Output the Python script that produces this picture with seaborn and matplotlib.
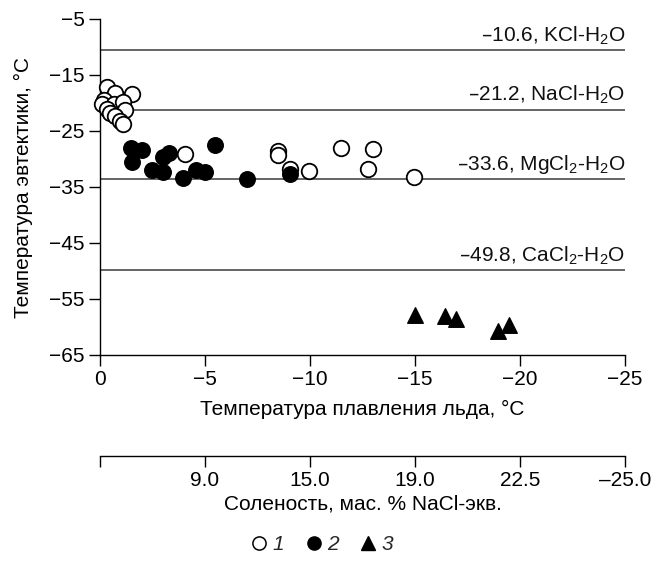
import numpy as np
import pandas as pd
import matplotlib
matplotlib.use("Agg")
import matplotlib.pyplot as plt
import seaborn as sns
from matplotlib.lines import Line2D

# ---------------- data ----------------
# series 1 (open circles): ice melting T (x), eutectic T (y)
x1 = [-0.32, -0.71, -1.51, -0.19, -0.08, -0.67, -1.11, -1.19, -0.32, -0.48, -0.71, -0.95, -1.11,
      -4.05, -8.49, -8.49, -9.05, -9.97, -11.46, -12.99, -12.78, -14.95]
y1 = [-17.2, -18.2, -18.4, -19.5, -20.1, -20.1, -19.8, -21.3, -21.0, -21.8, -22.4, -23.3, -23.8,
      -29.1, -28.5, -29.3, -31.8, -32.1, -28.1, -28.3, -31.7, -33.2]
# series 2 (filled circles)
x2 = [-1.46, -1.99, -1.51, -2.46, -3.01, -3.01, -3.29, -3.97, -4.57, -5.00, -5.48, -6.99, -9.05]
y2 = [-28.1, -28.4, -30.5, -32.0, -32.4, -29.6, -28.9, -33.4, -32.0, -32.4, -27.5, -33.6, -32.7]
# series 3 (triangles)
x3 = [-15.0, -16.43, -16.95, -18.97, -19.48]
y3 = [-57.9, -58.0, -58.6, -60.7, -59.6]

eutectic_vals = [-10.6, -21.2, -33.6, -49.8]
eutectic_labels = ["–10.6, KCl-H$_2$O", "–21.2, NaCl-H$_2$O",
                   "–33.6, MgCl$_2$-H$_2$O", "–49.8, CaCl$_2$-H$_2$O"]

xticks = [0, -5, -10, -15, -20, -25]
yticks = [-5, -15, -25, -35, -45, -55, -65]
salinity_labels = ["", "9.0", "15.0", "19.0", "22.5", "–25.0"]
legend_labels = ["1", "2", "3"]

# ---------------- style ----------------
sns.set_theme(style="ticks")
plt.rcParams["font.family"] = ["Liberation Sans", "DejaVu Sans"]
plt.rcParams["mathtext.default"] = "regular"
plt.rcParams["axes.unicode_minus"] = True

FS = 15
W, H = 662, 562
fig = plt.figure(figsize=(W / 100, H / 100), dpi=100)
L, R, T, B = 100, 625, 19, 355
ax = fig.add_axes([L / W, 1 - B / H, (R - L) / W, (B - T) / H])

df1 = pd.DataFrame({"x": x1, "y": y1})
df2 = pd.DataFrame({"x": x2, "y": y2})
df3 = pd.DataFrame({"x": x3, "y": y3})

for v in eutectic_vals:
    ax.axhline(v, color="#3a3a3a", lw=1.1, zorder=1)
for v, lab in zip(eutectic_vals, eutectic_labels):
    ax.text(-25, v + 0.6, lab, ha="right", va="bottom", fontsize=FS, color="#111111")

sns.scatterplot(data=df1, x="x", y="y", ax=ax, marker="o", s=125, color="white",
                edgecolor="black", linewidth=1.3, legend=False, clip_on=False, zorder=3)
sns.scatterplot(data=df2, x="x", y="y", ax=ax, marker="o", s=125, color="black",
                edgecolor="black", linewidth=1.0, legend=False, clip_on=False, zorder=4)
sns.scatterplot(data=df3, x="x", y="y", ax=ax, marker="^", s=125, color="black",
                edgecolor="black", linewidth=1.0, legend=False, clip_on=False, zorder=4)

ax.set_xlim(0, -25)
ax.set_ylim(-65, -5)
ax.set_xticks(xticks)
ax.set_xticklabels(["0", "−5", "−10", "−15", "−20", "−25"])
ax.set_yticks(yticks)
ax.set_yticklabels(["−5", "−15", "−25", "−35", "−45", "−55", "−65"])
ax.tick_params(direction="out", length=8, width=1, labelsize=FS, pad=3, colors="black")
for s in ["top", "right"]:
    ax.spines[s].set_visible(False)
for s in ["left", "bottom"]:
    ax.spines[s].set_color("black")
    ax.spines[s].set_linewidth(1)
ax.set_xlabel("Температура плавления льда, °C", fontsize=FS, labelpad=8, color="black")
ax.set_ylabel("Температура эвтектики, °C", fontsize=FS, labelpad=12, color="black")

# secondary salinity axis
yS = 456
ax2 = fig.add_axes([L / W, 1 - yS / H, (R - L) / W, 0.0001])
ax2.set_xlim(0, -25)
ax2.patch.set_visible(False)
for s in ["top", "right", "left"]:
    ax2.spines[s].set_visible(False)
ax2.spines["bottom"].set_color("black")
ax2.spines["bottom"].set_linewidth(1)
ax2.set_yticks([])
ax2.set_xticks(xticks)
ax2.set_xticklabels(salinity_labels)
ax2.tick_params(axis="x", direction="out", length=8, width=1, labelsize=FS, pad=3, colors="black")
ax2.set_xlabel("Соленость, мас. % NaCl-экв.", fontsize=FS, labelpad=3, color="black")

# legend
handles = [
    Line2D([], [], marker="o", ls="", markersize=9.5, markerfacecolor="white",
           markeredgecolor="black", markeredgewidth=1.1),
    Line2D([], [], marker="o", ls="", markersize=9.5, markerfacecolor="black",
           markeredgecolor="black"),
    Line2D([], [], marker="^", ls="", markersize=9.5, markerfacecolor="black",
           markeredgecolor="black"),
]
fig.legend(handles, legend_labels, loc="center", bbox_to_anchor=(321 / W, 1 - 545 / H),
           ncol=3, frameon=False, prop={"style": "italic", "size": FS},
           handletextpad=0.15, columnspacing=0.9, handlelength=1.0)

fig.savefig("out.png", dpi=100)
